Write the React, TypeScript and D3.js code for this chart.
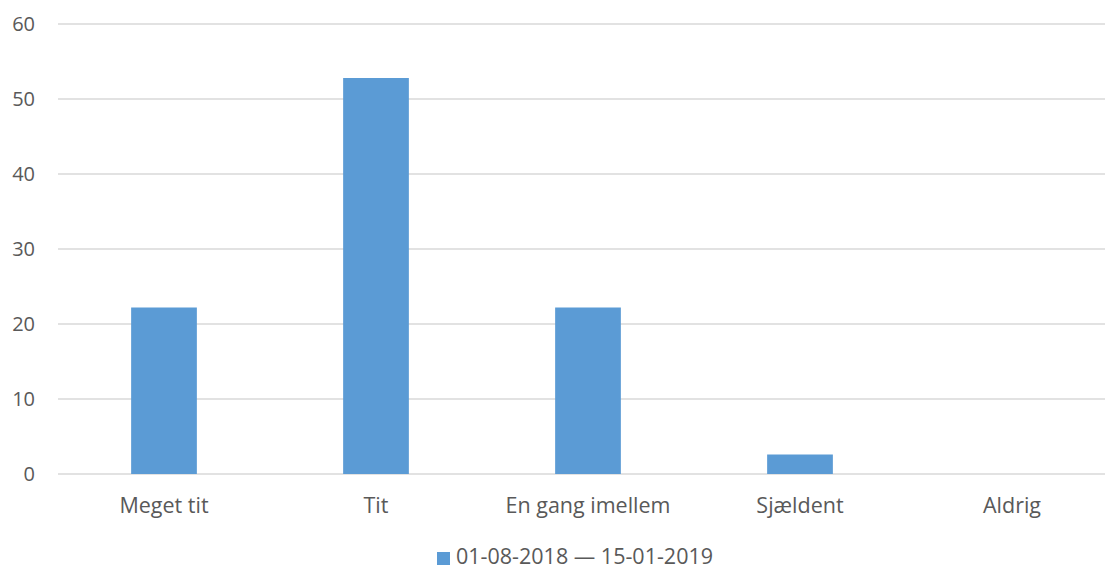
import React from "react";
import * as d3 from "d3";

const categories = ["Meget tit", "Tit", "En gang imellem", "Sjældent", "Aldrig"];
const values = [22.2, 52.8, 22.2, 2.6, 0];
const yTicks = [0, 10, 20, 30, 40, 50, 60];
const seriesName = "01-08-2018 — 15-01-2019";

export default function App() {
  const W = 1105, H = 570;
  const left = 58, right = 1118, top = 24, bottom = 474;
  const x = d3.scaleBand<string>().domain(categories).range([left, right]).paddingInner(0.69).paddingOuter(0.345);
  const y = d3.scaleLinear().domain([0, 60]).range([bottom, top]);
  const font = "'Open Sans', sans-serif";
  return (
    <svg width={W} height={H} style={{ position: "absolute", left: 0, top: 0 }} fontFamily={font}>
      <rect width={W} height={H} fill="#fff" />
      {yTicks.map((t) => (
        <g key={t}>
          <line x1={left} x2={W} y1={y(t)} y2={y(t)} stroke="#d9d9d9" strokeWidth={1.5} />
          <text x={35} y={y(t)} dy="0.36em" textAnchor="end" fontSize={20} fill="#595959">{t}</text>
        </g>
      ))}
      {categories.map((c, i) => (
        <g key={c}>
          {values[i] > 0 && (
            <rect x={x(c)} y={y(values[i])} width={x.bandwidth()} height={y(0) - y(values[i])} fill="#5b9bd5" />
          )}
          <text x={(x(c) as number) + x.bandwidth() / 2} y={513} textAnchor="middle" fontSize={21.5} fill="#595959">{c}</text>
        </g>
      ))}
      <rect x={437} y={552} width={13} height={13} fill="#5b9bd5" />
      <text x={456} y={564} fontSize={21.5} fill="#595959">{seriesName}</text>
    </svg>
  );
}
